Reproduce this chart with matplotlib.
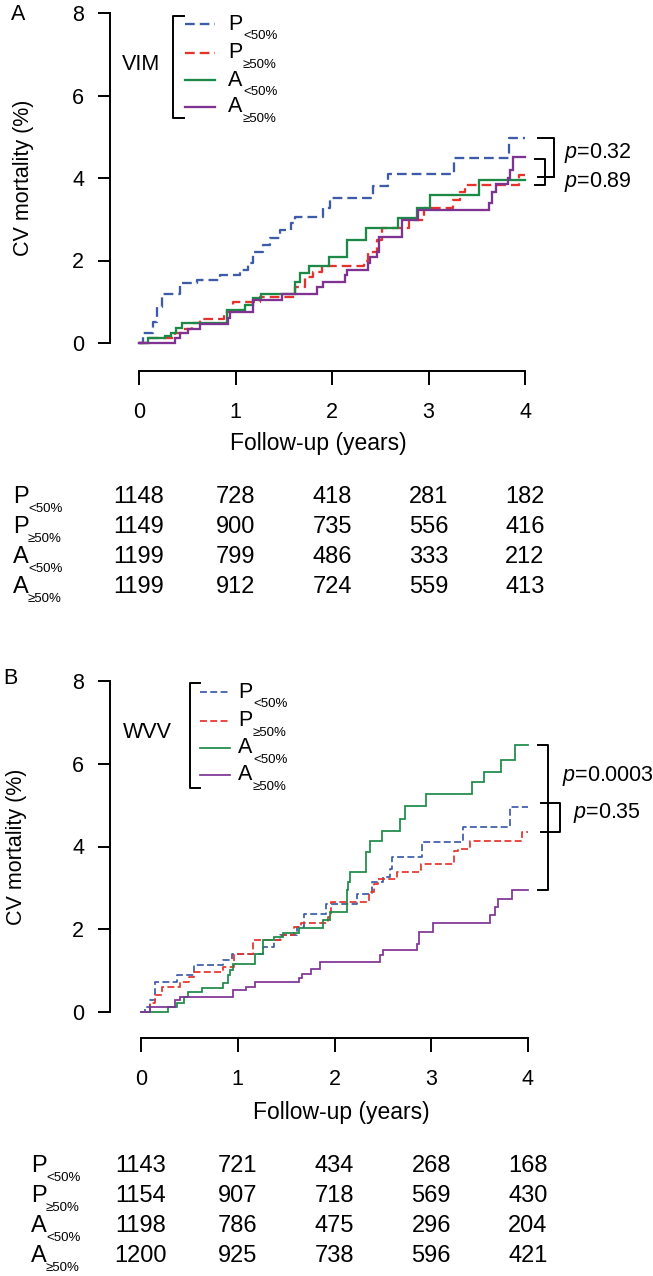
import numpy as np
import matplotlib.pyplot as plt
from matplotlib.transforms import blended_transform_factory

plt.rcParams['font.family'] = ['Liberation Sans', 'DejaVu Sans']
plt.rcParams['lines.scale_dashes'] = False
plt.rcParams['mathtext.fontset'] = 'custom'
plt.rcParams['mathtext.it'] = 'Liberation Sans:italic'
plt.rcParams['mathtext.rm'] = 'Liberation Sans'

W, H = 653, 1276
NARROW = ['Liberation Sans Narrow', 'Liberation Sans', 'DejaVu Sans']

# ============================================================
# DATA
# ============================================================
GROUPS = ['P', 'P', 'A', 'A']
SUBS = ['<50%', '\u226550%', '<50%', '\u226550%']
COLORS = ['#3d5ba9', '#e5322d', '#1c8a46', '#7e3393']
DASHED = [True, True, False, False]
YEARS = [0, 1, 2, 3, 4]
Y_TICKS = [0, 2, 4, 6, 8]

# --- panel A: VIM ---
vim_p_lo_t = [0, 0.04, 0.14, 0.19, 0.24, 0.42, 0.60, 0.84, 1.05, 1.13, 1.18, 1.28, 1.36,
              1.46, 1.57, 1.62, 1.91, 1.98, 2.43, 2.58, 3.26, 3.83, 4.0]
vim_p_lo_v = [0, 0.24, 0.50, 0.87, 1.20, 1.45, 1.53, 1.65, 1.77, 1.93, 2.20, 2.37, 2.54,
              2.74, 2.90, 3.06, 3.27, 3.52, 3.80, 4.10, 4.48, 4.97, 4.97]
vim_p_hi_t = [0, 0.10, 0.37, 0.45, 0.55, 0.63, 0.88, 0.97, 1.25, 1.62, 1.72, 1.80, 1.90,
              2.33, 2.37, 2.47, 2.52, 2.80, 2.95, 3.25, 3.33, 3.38, 3.94, 4.0]
vim_p_hi_v = [0, 0.12, 0.25, 0.35, 0.48, 0.58, 0.75, 1.00, 1.12, 1.36, 1.60, 1.72, 1.86,
              2.00, 2.20, 2.50, 2.78, 2.98, 3.27, 3.47, 3.66, 3.83, 4.07, 4.07]
vim_a_lo_t = [0, 0.09, 0.27, 0.33, 0.38, 0.45, 0.91, 1.10, 1.18, 1.26, 1.62, 1.67, 1.76,
              1.97, 2.16, 2.35, 2.68, 2.88, 3.02, 3.52, 4.0]
vim_a_lo_v = [0, 0.12, 0.18, 0.25, 0.36, 0.48, 0.80, 0.92, 1.09, 1.20, 1.48, 1.69, 1.87,
              2.09, 2.50, 2.78, 3.02, 3.27, 3.59, 3.95, 3.95]
vim_a_hi_t = [0, 0.37, 0.43, 0.51, 0.63, 0.92, 0.94, 1.18, 1.48, 1.84, 1.91, 2.13, 2.16,
              2.37, 2.39, 2.47, 2.49, 2.73, 2.89, 3.63, 3.66, 3.70, 3.82, 3.84, 3.88, 4.0]
vim_a_hi_v = [0, 0.12, 0.24, 0.34, 0.47, 0.60, 0.76, 1.04, 1.20, 1.36, 1.48, 1.65, 1.77,
              1.93, 2.09, 2.20, 2.56, 2.98, 3.22, 3.40, 3.65, 3.85, 4.00, 4.20, 4.50, 4.50]
vim_at_risk = [[1148, 728, 418, 281, 182],
               [1149, 900, 735, 556, 416],
               [1199, 799, 486, 333, 212],
               [1199, 912, 724, 559, 413]]

# --- panel B: WVV ---
wvv_p_lo_t = [0, 0.04, 0.09, 0.14, 0.37, 0.55, 0.85, 0.94, 1.26, 1.37, 1.44, 1.61, 1.68,
              1.91, 2.23, 2.39, 2.50, 2.57, 2.59, 2.90, 3.33, 3.81, 4.0]
wvv_p_lo_v = [0, 0.13, 0.29, 0.73, 0.89, 1.13, 1.25, 1.41, 1.57, 1.73, 1.86, 2.06, 2.38,
              2.62, 2.86, 3.14, 3.26, 3.46, 3.74, 4.10, 4.48, 4.96, 4.96]
wvv_p_hi_t = [0, 0.09, 0.14, 0.22, 0.40, 0.50, 0.55, 0.85, 0.96, 1.16, 1.46, 1.58, 1.65,
              1.93, 1.96, 2.36, 2.41, 2.45, 2.65, 2.89, 3.23, 3.28, 3.40, 3.94, 4.0]
wvv_p_hi_v = [0, 0.21, 0.41, 0.61, 0.73, 0.85, 0.97, 1.09, 1.41, 1.75, 1.86, 2.06, 2.14,
              2.30, 2.66, 2.90, 3.10, 3.22, 3.38, 3.58, 3.90, 3.94, 4.13, 4.35, 4.35]
wvv_a_lo_t = [0, 0.28, 0.37, 0.44, 0.49, 0.63, 0.85, 0.90, 0.92, 0.95, 1.18, 1.26, 1.37,
              1.47, 1.63, 1.88, 1.95, 2.13, 2.14, 2.16, 2.33, 2.37, 2.49, 2.68, 2.73, 2.95,
              3.42, 3.55, 3.72, 3.87, 4.0]
wvv_a_lo_v = [0, 0.13, 0.22, 0.37, 0.49, 0.57, 0.69, 0.89, 1.01, 1.17, 1.41, 1.73, 1.81,
              1.90, 2.02, 2.22, 2.42, 2.94, 3.14, 3.38, 3.86, 4.14, 4.38, 4.67, 4.99, 5.27,
              5.55, 5.80, 6.10, 6.45, 6.45]
wvv_a_hi_t = [0, 0.09, 0.35, 0.40, 0.95, 1.09, 1.18, 1.63, 1.66, 1.76, 1.85, 2.47, 2.50,
              2.85, 2.87, 3.02, 3.61, 3.66, 3.69, 3.83, 4.0]
wvv_a_hi_v = [0, 0.13, 0.29, 0.37, 0.53, 0.61, 0.73, 0.81, 0.93, 1.05, 1.21, 1.37, 1.49,
              1.65, 1.93, 2.14, 2.34, 2.54, 2.74, 2.96, 2.96]
wvv_at_risk = [[1143, 721, 434, 268, 168],
               [1154, 907, 718, 569, 430],
               [1198, 786, 475, 296, 204],
               [1200, 925, 738, 596, 421]]


def fx(x):
    return x / W


def fy(y):
    return 1 - y / H


def px_pt(p):
    return p * 72 / 100


def draw_panel(fig, L, times, vals, name, at_risk, brackets, pvals):
    x0, x4, y0, y8 = L['x0'], L['x4'], L['y0'], L['y8']
    ax = fig.add_axes([fx(x0), fy(y0), fx(x4) - fx(x0), fy(y8) - fy(y0)])
    ax.set_xlim(0, 4)
    ax.set_ylim(0, 8)
    ax.patch.set_visible(False)
    for s in ['top', 'right']:
        ax.spines[s].set_visible(False)
    ax.spines['left'].set_position(('outward', px_pt(x0 - L['yaxis_x'])))
    ax.spines['left'].set_bounds(0, 8)
    ax.spines['bottom'].set_position(('outward', px_pt(L['xaxis_y'] - y0)))
    ax.spines['bottom'].set_bounds(0, 4)
    for s in ['left', 'bottom']:
        ax.spines[s].set_linewidth(1.4)
    ax.set_xticks(YEARS)
    ax.set_yticks(Y_TICKS)
    ax.tick_params(axis='y', length=8.5, width=1.4, pad=10, labelsize=15.5)
    ax.tick_params(axis='x', length=10, width=1.4, pad=12, labelsize=15.5)

    # curves
    for t, v, c, d in zip(times, vals, COLORS, DASHED):
        ls = (0, L['dash']) if d else '-'
        ax.step(t, v, where='post', color=c, lw=L['lw'], ls=ls, clip_on=False,
                solid_joinstyle='miter')

    # axis labels
    fig.text(fx(L['ylab_x']), fy((y0 + y8) / 2), 'CV mortality (%)', rotation=90,
             ha='center', va='center', fontsize=15.5)
    fig.text(fx(L['xlab_x']), fy(L['xlab_y']), 'Follow-up (years)', ha='center',
             va='center', fontsize=16.5)
    fig.text(fx(L['tag_x']), fy(L['tag_y']), L['tag'], ha='left', va='center', fontsize=15.5)

    # legend with bracket
    bx, bx2, bt, bb = L['br_x'], L['br_x2'], L['br_top'], L['br_bot']
    fig.add_artist(plt.Line2D([fx(bx2), fx(bx), fx(bx), fx(bx2)],
                              [fy(bt), fy(bt), fy(bb), fy(bb)], color='black',
                              lw=1.4, solid_joinstyle='round'))
    fig.text(fx(L['name_x']), fy(L['name_y']), name, ha='left', va='center', fontsize=15.5)
    for i, (g, s, c, d) in enumerate(zip(GROUPS, SUBS, COLORS, DASHED)):
        yy = L['leg_y'][i]
        ls = (0, L['dash']) if d else '-'
        fig.add_artist(plt.Line2D([fx(L['leg_x1']), fx(L['leg_x2'])], [fy(yy), fy(yy)],
                                  color=c, lw=L['lw'], ls=ls))
        fig.text(fx(L['leg_tx']), fy(yy), g, ha='left', va='center', fontsize=15.5)
        fig.text(fx(L['leg_tx'] + 15), fy(yy + 12), s, ha='left', va='center', fontsize=9.5)

    # p-value brackets (data coords)
    for (xa, xb, va_, vb, xmid) in brackets:
        ax.plot([xa, xb, xb, xa], [va_, va_, vb, vb], color='black', lw=1.4,
                clip_on=False, solid_joinstyle='round')
        if xmid is not None:
            ax.plot([xmid[0], xmid[1]], [xmid[2], xmid[2]], color='black', lw=1.4,
                    clip_on=False)
    for (xt, yt, txt) in pvals:
        ax.text(xt, yt, r'$p$=' + txt, ha='left', va='center', fontsize=15.5,
                clip_on=False)

    # number at risk table
    tr = blended_transform_factory(ax.transData, fig.transFigure)
    for i, row in enumerate(at_risk):
        yy = L['row_y'][i]
        fig.text(fx(L['row_x']), fy(yy), GROUPS[i], ha='left', va='center',
                 fontsize=17, family=NARROW)
        fig.text(fx(L['row_x'] + 15), fy(yy + 12), SUBS[i], ha='left', va='center',
                 fontsize=9.5)
        for yr, n in zip(YEARS, row):
            ax.text(yr, fy(yy), str(n), transform=tr, ha='center', va='center',
                    fontsize=17, family=NARROW)
    return ax


fig = plt.figure(figsize=(W / 100, H / 100), dpi=100)

layout_a = dict(x0=139, x4=525, y0=343, y8=13, yaxis_x=110, xaxis_y=371, lw=1.65,
                dash=(7.0, 3.6), ylab_x=24, xlab_x=318, xlab_y=444, tag='A', tag_x=11,
                tag_y=15, br_x=173, br_x2=184, br_top=16, br_bot=118, name_x=122,
                name_y=65, leg_x1=185, leg_x2=215, leg_tx=228, leg_y=[24, 53, 80, 107],
                row_x=13, row_y=[497, 527, 557, 587])
vim_t = [vim_p_lo_t, vim_p_hi_t, vim_a_lo_t, vim_a_hi_t]
vim_v = [vim_p_lo_v, vim_p_hi_v, vim_a_lo_v, vim_a_hi_v]
pa_lo, pa_hi, aa_lo, aa_hi = vim_p_lo_v[-1], vim_p_hi_v[-1], vim_a_lo_v[-1], vim_a_hi_v[-1]
draw_panel(fig, layout_a, vim_t, vim_v, 'VIM', vim_at_risk,
           brackets=[(4.13, 4.30, pa_lo, pa_hi - 0.05, (4.21, 4.30, pa_hi - 0.05)),
                     (4.10, 4.21, aa_hi - 0.05, aa_lo - 0.12, None)],
           pvals=[(4.40, 4.6, '0.32'), (4.40, 3.9, '0.89')])

layout_b = dict(x0=141, x4=528, y0=1012, y8=681, yaxis_x=110, xaxis_y=1038, lw=1.25,
                dash=(5.0, 2.4), ylab_x=17, xlab_x=341, xlab_y=1113, tag='B', tag_x=3,
                tag_y=679, br_x=190, br_x2=200, br_top=683, br_bot=788, name_x=123,
                name_y=733, leg_x1=200, leg_x2=230, leg_tx=238, leg_y=[692, 721, 748, 775],
                row_x=31, row_y=[1166, 1196, 1226, 1256])
wvv_t = [wvv_p_lo_t, wvv_p_hi_t, wvv_a_lo_t, wvv_a_hi_t]
wvv_v = [wvv_p_lo_v, wvv_p_hi_v, wvv_a_lo_v, wvv_a_hi_v]
pb_lo, pb_hi, ab_lo, ab_hi = wvv_p_lo_v[-1], wvv_p_hi_v[-1], wvv_a_lo_v[-1], wvv_a_hi_v[-1]
draw_panel(fig, layout_b, wvv_t, wvv_v, 'WVV', wvv_at_risk,
           brackets=[(4.10, 4.21, ab_lo, ab_hi, None),
                     (4.13, 4.33, pb_lo + 0.1, pb_hi, None)],
           pvals=[(4.35, 5.7, '0.0003'), (4.47, 4.8, '0.35')])

fig.savefig('out.png', dpi=100)
